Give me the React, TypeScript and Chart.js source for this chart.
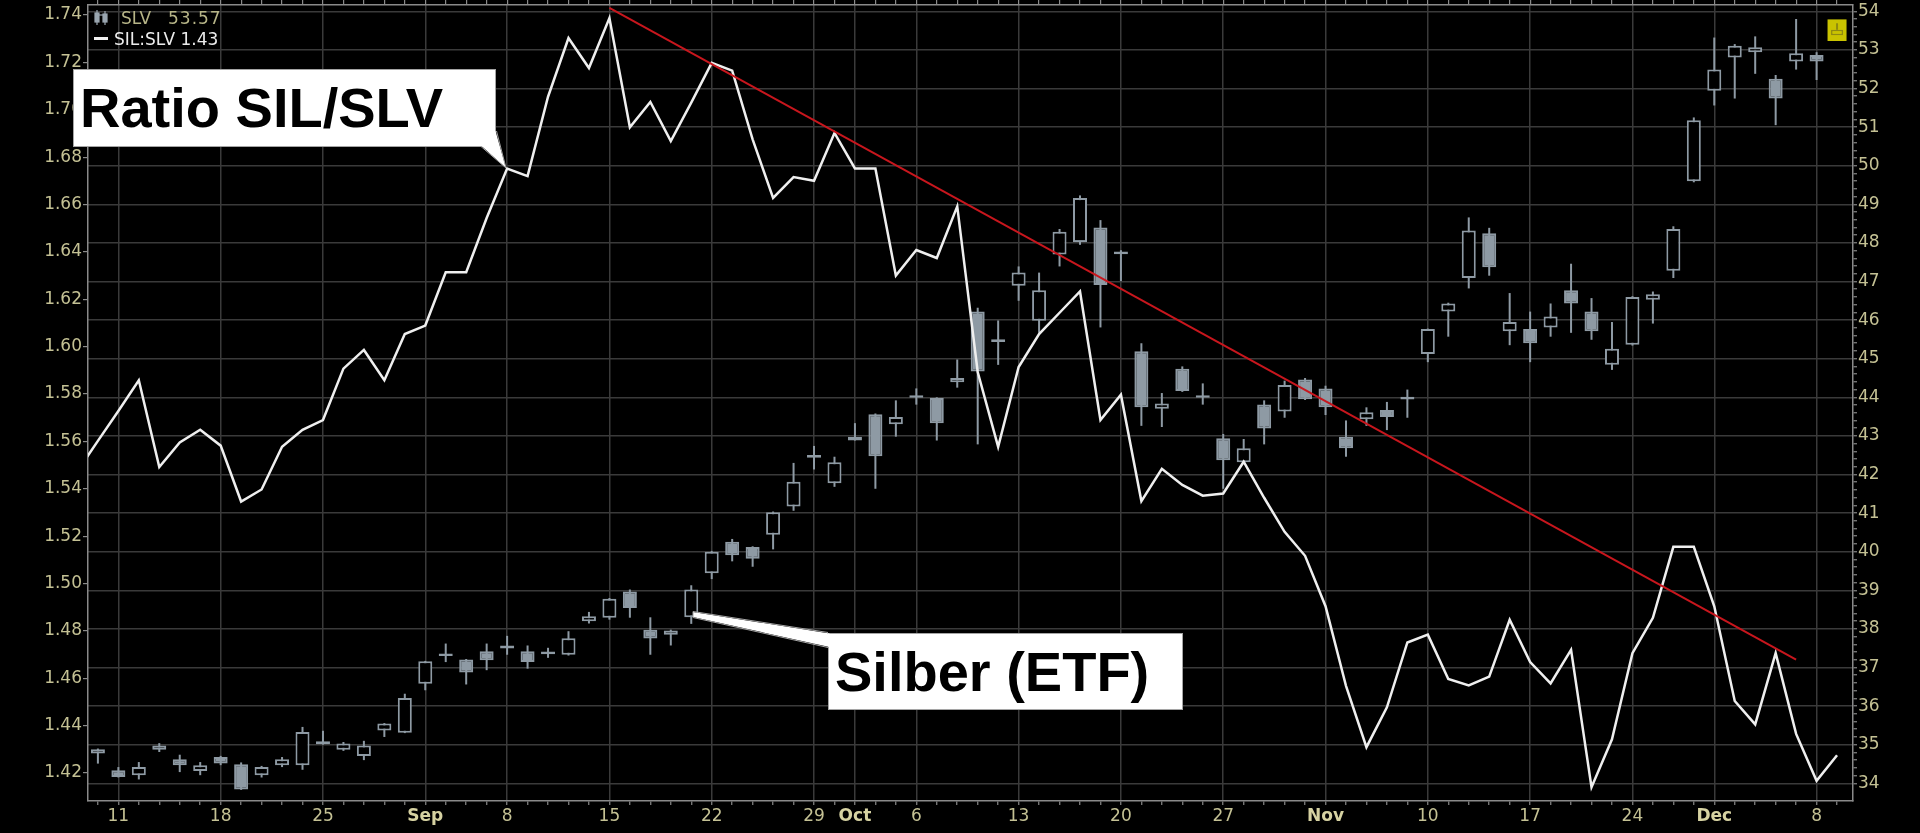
import React, { useEffect, useRef } from 'react';
import { Chart, registerables } from 'chart.js';

Chart.register(...registerables);

// ---------- DATA ----------
// trading days (Aug 7 is only used by the ratio line, clipped at the left edge)
const dates: string[] = [
  'Aug 7', 'Aug 8',
  'Aug 11', 'Aug 12', 'Aug 13', 'Aug 14', 'Aug 15',
  'Aug 18', 'Aug 19', 'Aug 20', 'Aug 21', 'Aug 22',
  'Aug 25', 'Aug 26', 'Aug 27', 'Aug 28', 'Aug 29',
  'Sep 2', 'Sep 3', 'Sep 4', 'Sep 5',
  'Sep 8', 'Sep 9', 'Sep 10', 'Sep 11', 'Sep 12',
  'Sep 15', 'Sep 16', 'Sep 17', 'Sep 18', 'Sep 19',
  'Sep 22', 'Sep 23', 'Sep 24', 'Sep 25', 'Sep 26',
  'Sep 29', 'Sep 30', 'Oct 1', 'Oct 2', 'Oct 3',
  'Oct 6', 'Oct 7', 'Oct 8', 'Oct 9', 'Oct 10',
  'Oct 13', 'Oct 14', 'Oct 15', 'Oct 16', 'Oct 17',
  'Oct 20', 'Oct 21', 'Oct 22', 'Oct 23', 'Oct 24',
  'Oct 27', 'Oct 28', 'Oct 29', 'Oct 30', 'Oct 31',
  'Nov 3', 'Nov 4', 'Nov 5', 'Nov 6', 'Nov 7',
  'Nov 10', 'Nov 11', 'Nov 12', 'Nov 13', 'Nov 14',
  'Nov 17', 'Nov 18', 'Nov 19', 'Nov 20', 'Nov 21',
  'Nov 24', 'Nov 25', 'Nov 26', 'Nov 28',
  'Dec 1', 'Dec 2', 'Dec 3', 'Dec 4', 'Dec 5',
  'Dec 8', 'Dec 9',
];

// SIL:SLV ratio (left axis)
const ratio: number[] = [
  1.5475, 1.5602,
  1.5728, 1.5858, 1.5492, 1.5595, 1.5649,
  1.5582, 1.5346, 1.5397, 1.5577, 1.5649,
  1.5690, 1.5907, 1.5986, 1.5858, 1.6053,
  1.6089, 1.6314, 1.6314, 1.6543,
  1.6752, 1.6720, 1.7055, 1.7303, 1.7176,
  1.7387, 1.6926, 1.7033, 1.6868, 1.7030,
  1.7198, 1.7165, 1.6875, 1.6628, 1.6716,
  1.6700, 1.6902, 1.6752, 1.6752, 1.6300,
  1.6408, 1.6374, 1.6592, 1.5893, 1.5577,
  1.5914, 1.6053, 1.6143, 1.6233, 1.5690,
  1.5797, 1.5348, 1.5484, 1.5416, 1.5371,
  1.5380, 1.5514, 1.5362, 1.5218, 1.5117,
  1.4904, 1.4568, 1.4309, 1.4477, 1.4751,
  1.4784, 1.4597, 1.4570, 1.4607, 1.4847,
  1.4668, 1.4578, 1.4720, 1.4140, 1.4342,
  1.4706, 1.4855, 1.5155, 1.5155,
  1.4904, 1.4504, 1.4405, 1.4706, 1.4365,
  1.4167, 1.4275,
];

// SLV daily candles (right axis)
const slvOpen: (number | null)[] = [
  null, 34.77,
  34.34, 34.21, 34.87, 34.62, 34.32,
  34.68, 34.49, 34.21, 34.47, 34.47,
  35.09, 34.87, 34.71, 35.37, 35.31,
  36.58, 37.32, 37.21, 37.42,
  37.57, 37.42, 37.36, 37.33, 38.20,
  38.29, 38.97, 37.98, 37.85, 38.30,
  39.44, 40.26, 40.12, 40.44, 41.17,
  42.44, 41.77, 42.88, 43.56, 43.30,
  44.00, 43.98, 44.39, 46.22, 45.45,
  46.89, 45.98, 47.70, 48.02, 48.40,
  47.72, 45.19, 43.70, 44.74, 44.04,
  42.94, 42.32, 43.81, 43.63, 44.46,
  44.23, 42.98, 43.43, 43.67, 43.96,
  45.12, 46.22, 47.09, 48.25, 45.71,
  45.77, 45.81, 46.77, 46.22, 44.84,
  45.36, 46.53, 47.28, 49.60,
  51.94, 52.80, 52.94, 52.25, 52.70,
  52.87, null,
];
const slvHigh: (number | null)[] = [
  null, 34.90,
  34.42, 34.55, 35.04, 34.74, 34.55,
  34.71, 34.54, 34.45, 34.68, 35.46,
  35.36, 35.07, 35.10, 35.56, 36.32,
  37.17, 37.62, 37.22, 37.62,
  37.82, 37.57, 37.51, 37.94, 38.44,
  38.80, 39.02, 38.30, 37.98, 39.13,
  40.02, 40.33, 40.14, 41.04, 42.30,
  42.74, 42.46, 43.33, 43.58, 43.92,
  44.23, 44.00, 44.98, 46.32, 45.99,
  47.39, 47.23, 48.36, 49.23, 48.59,
  47.81, 45.40, 44.11, 44.80, 44.36,
  43.05, 42.92, 43.92, 44.43, 44.50,
  44.30, 43.40, 43.74, 43.88, 44.20,
  45.78, 46.45, 48.66, 48.39, 46.70,
  46.22, 46.43, 47.46, 46.57, 45.95,
  46.62, 46.74, 48.43, 51.25,
  53.32, 53.15, 53.35, 52.35, 53.80,
  52.94, null,
];
const slvLow: (number | null)[] = [
  null, 34.51,
  34.15, 34.10, 34.81, 34.29, 34.21,
  34.47, 33.83, 34.15, 34.42, 34.35,
  35.00, 34.84, 34.60, 35.20, 35.30,
  36.41, 37.14, 36.56, 36.93,
  37.33, 36.97, 37.25, 37.31, 38.14,
  38.24, 38.29, 37.33, 37.57, 38.13,
  39.29, 39.75, 39.61, 40.06, 41.06,
  42.13, 41.68, 42.88, 41.63, 42.98,
  43.81, 42.88, 44.25, 42.78, 44.84,
  46.50, 45.67, 47.39, 47.95, 45.81,
  47.01, 43.26, 43.23, 44.14, 43.81,
  41.63, 42.30, 42.78, 43.47, 43.93,
  43.54, 42.46, 43.26, 43.15, 43.47,
  44.91, 45.57, 46.82, 47.15, 45.35,
  44.91, 45.57, 45.67, 45.49, 44.71,
  45.34, 45.91, 47.09, 49.57,
  51.56, 51.74, 52.38, 51.05, 52.49,
  52.22, null,
];
const slvClose: (number | null)[] = [
  null, 34.88,
  34.16, 34.42, 34.98, 34.47, 34.47,
  34.51, 33.84, 34.42, 34.62, 35.33,
  35.01, 35.03, 34.98, 35.55, 36.21,
  37.16, 37.34, 36.87, 37.19,
  37.49, 37.14, 37.40, 37.76, 38.33,
  38.78, 38.54, 37.75, 37.96, 39.02,
  40.00, 39.91, 39.82, 41.02, 41.81,
  42.50, 42.32, 42.98, 42.47, 43.49,
  44.04, 43.33, 44.50, 44.67, 45.49,
  47.23, 46.77, 48.29, 49.16, 46.91,
  47.76, 43.74, 43.84, 44.16, 44.00,
  42.37, 42.68, 43.19, 44.32, 43.95,
  43.74, 42.68, 43.61, 43.49, 44.00,
  45.77, 46.43, 48.32, 47.37, 45.95,
  45.40, 46.09, 46.43, 45.71, 45.26,
  46.60, 46.67, 48.36, 51.18,
  52.49, 53.11, 53.07, 51.74, 52.91,
  52.70, null,
];

const slvLast = 53.57;
const slvLastDate = 'Dec 9';
const ratioLast = 1.43;

// red trend line on the ratio
const trendDates = ['Sep 15', 'Dec 5'];
const trendValues = [1.743, 1.4679];

// axis ticks
const ratioTicks = [1.42, 1.44, 1.46, 1.48, 1.5, 1.52, 1.54, 1.56, 1.58, 1.6, 1.62, 1.64, 1.66, 1.68, 1.7, 1.72, 1.74];
const xLabelDates = ['Aug 11', 'Aug 18', 'Aug 25', 'Sep 2', 'Sep 8', 'Sep 15', 'Sep 22', 'Sep 29', 'Oct 1', 'Oct 6', 'Oct 13', 'Oct 20', 'Oct 27', 'Nov 3', 'Nov 10', 'Nov 17', 'Nov 24', 'Dec 1', 'Dec 8'];
const xLabelTexts = ['11', '18', '25', 'Sep', '8', '15', '22', '29', 'Oct', '6', '13', '20', '27', 'Nov', '10', '17', '24', 'Dec', '8'];
const monthNames = ['Sep', 'Oct', 'Nov', 'Dec'];

// ---------- STYLE ----------
const W = 1920;
const H = 833;
const GRID = '#3a3a3a';
const AXIS = '#8a8a8a';
const CANDLE = '#8e9aa4';
const LABEL = '#c4c194';
const MONTH = '#d6d2a2';
const FONT = "'DejaVu Sans', 'Noto Sans', sans-serif";
const CALLOUT_FONT = "'Liberation Sans', Arial, sans-serif";

const X_MIN = 0.516;
const X_MAX = 86.78;
const YL_MIN = 1.40818;
const YL_MAX = 1.74422;
const YR_MIN = 33.541;
const YR_MAX = 54.163;
const MIN_BODY = 0.07;

const TRANSPARENT = 'rgba(0,0,0,0)';

function fix(dim: 'width' | 'height', v: number) {
  return (s: any) => {
    s[dim] = v;
    s.paddingTop = 0;
    s.paddingBottom = 0;
    s.paddingLeft = 0;
    s.paddingRight = 0;
  };
}

export default function App() {
  const ref = useRef<HTMLCanvasElement>(null);

  useEffect(() => {
    document.body.style.margin = '0';
    document.body.style.background = '#000';
    const canvas = ref.current;
    if (!canvas) return;

    const idx = dates.map((_, j) => j);
    const candleIdx = idx.filter((j) => slvOpen[j] != null);
    const isUp = (j: number) => (slvClose[j] as number) >= (slvOpen[j] as number);

    const wickData = candleIdx.map((j) => ({ x: j, y: [slvLow[j] as number, slvHigh[j] as number] }));
    const bodyData = candleIdx.map((j) => {
      const o = slvOpen[j] as number;
      const c = slvClose[j] as number;
      let lo = Math.min(o, c);
      let hi = Math.max(o, c);
      if (hi - lo < MIN_BODY) {
        const m = (hi + lo) / 2;
        lo = m - MIN_BODY / 2;
        hi = m + MIN_BODY / 2;
      }
      return { x: j, y: [lo, hi] };
    });
    const bodyFill = candleIdx.map((j) => (isUp(j) ? '#000000' : CANDLE));

    const lastIdx = dates.indexOf(slvLastDate);
    const dayTicks = idx.filter((j) => j >= X_MIN && j <= X_MAX);
    const labelAt = new Map<number, string>();
    xLabelDates.forEach((d, k) => labelAt.set(dates.indexOf(d), xLabelTexts[k]));

    const rightTicks: number[] = [];
    for (let k = 0; k <= 100; k++) rightTicks.push(Math.round((34 + k * 0.2) * 10) / 10);
    const isInt = (v: number) => Math.abs(v - Math.round(v)) < 1e-6;

    const chart = new Chart(canvas, {
      type: 'line',
      data: {
        datasets: [
          {
            type: 'line',
            label: 'trend',
            data: trendDates.map((d, k) => ({ x: dates.indexOf(d), y: trendValues[k] })),
            borderColor: '#c8161d',
            borderWidth: 2,
            pointRadius: 0,
            xAxisID: 'x',
            yAxisID: 'yL',
            order: 0,
            clip: 0,
          } as any,
          {
            type: 'line',
            label: 'SIL:SLV',
            data: ratio.map((v, j) => ({ x: j, y: v })),
            borderColor: '#efefef',
            borderWidth: 2.5,
            pointRadius: 0,
            tension: 0,
            xAxisID: 'x',
            yAxisID: 'yL',
            order: 1,
            clip: 0,
          } as any,
          {
            type: 'bar',
            label: 'marker icon',
            data: [{ x: lastIdx, y: [slvLast - 0.19, slvLast - 0.05] }],
            backgroundColor: '#c9c300',
            borderColor: '#8f8a10',
            borderWidth: 1.5,
            borderSkipped: false,
            barThickness: 12,
            maxBarThickness: 12,
            grouped: false,
            inflateAmount: 0,
            xAxisID: 'x',
            yAxisID: 'yR',
            order: 5,
          } as any,
          {
            type: 'bar',
            label: 'marker icon wick',
            data: [{ x: lastIdx, y: [slvLast - 0.05, slvLast + 0.12] }],
            backgroundColor: '#8f8a10',
            borderWidth: 0,
            barThickness: 2,
            maxBarThickness: 2,
            grouped: false,
            inflateAmount: 0,
            xAxisID: 'x',
            yAxisID: 'yR',
            order: 6,
          } as any,
          {
            type: 'bar',
            label: 'SLV last',
            data: [{ x: lastIdx, y: [slvLast - 0.34, slvLast + 0.22] }],
            backgroundColor: '#c9c300',
            borderWidth: 0,
            barThickness: 19,
            maxBarThickness: 19,
            grouped: false,
            inflateAmount: 0,
            xAxisID: 'x',
            yAxisID: 'yR',
            order: 7,
          } as any,
          {
            type: 'bar',
            label: 'SLV body',
            data: bodyData,
            backgroundColor: bodyFill,
            borderColor: CANDLE,
            borderWidth: 2,
            borderSkipped: false,
            barThickness: 14,
            maxBarThickness: 14,
            grouped: false,
            inflateAmount: 0,
            xAxisID: 'x',
            yAxisID: 'yR',
            order: 8,
          } as any,
          {
            type: 'bar',
            label: 'SLV wick',
            data: wickData,
            backgroundColor: CANDLE,
            borderWidth: 0,
            barThickness: 2,
            maxBarThickness: 2,
            grouped: false,
            inflateAmount: 0,
            xAxisID: 'x',
            yAxisID: 'yR',
            order: 9,
          } as any,
        ],
      },
      options: {
        responsive: false,
        animation: false,
        devicePixelRatio: 1,
        events: [],
        layout: { padding: 0 },
        plugins: { legend: { display: false }, tooltip: { enabled: false } },
        scales: {
          x: {
            type: 'linear',
            position: 'bottom',
            min: X_MIN,
            max: X_MAX,
            bounds: 'data',
            offset: false,
            afterBuildTicks: (s: any) => {
              s.ticks = dayTicks.map((v) => ({ value: v }));
            },
            afterFit: fix('height', 32),
            ticks: {
              autoSkip: false,
              maxRotation: 0,
              minRotation: 0,
              padding: 1,
              callback: (v: any) => labelAt.get(Number(v)) ?? '',
              color: (ctx: any) => (monthNames.includes(labelAt.get(ctx.tick?.value) ?? '') ? MONTH : LABEL),
              font: (ctx: any) =>
                monthNames.includes(labelAt.get(ctx.tick?.value) ?? '')
                  ? { family: FONT, size: 17, weight: 'bold' }
                  : { family: FONT, size: 17, weight: 'normal' },
            },
            grid: {
              offset: false,
              drawOnChartArea: true,
              lineWidth: 1.5,
              color: (ctx: any) => (labelAt.has(ctx.tick?.value) ? GRID : TRANSPARENT),
              tickColor: AXIS,
              tickLength: 4,
              tickWidth: 1.2,
            },
            border: { display: true, color: AXIS, width: 1.5 },
          } as any,
          x2: {
            type: 'linear',
            position: 'top',
            min: X_MIN,
            max: X_MAX,
            bounds: 'data',
            offset: false,
            afterBuildTicks: (s: any) => {
              s.ticks = dayTicks.map((v) => ({ value: v }));
            },
            afterFit: fix('height', 5),
            ticks: { display: false, autoSkip: false },
            grid: {
              offset: false,
              drawOnChartArea: false,
              color: AXIS,
              tickLength: 5,
              lineWidth: 1.2,
            },
            border: { display: true, color: AXIS, width: 1.5 },
          } as any,
          yL: {
            type: 'linear',
            position: 'left',
            min: YL_MIN,
            max: YL_MAX,
            bounds: 'data',
            afterBuildTicks: (s: any) => {
              s.ticks = ratioTicks.map((v) => ({ value: v }));
            },
            afterFit: fix('width', 88),
            ticks: {
              autoSkip: false,
              padding: 1,
              color: LABEL,
              font: { family: FONT, size: 17 },
              callback: (v: any) => Number(v).toFixed(2),
            },
            grid: {
              drawOnChartArea: false,
              color: AXIS,
              tickLength: 5,
              lineWidth: 1.2,
            },
            border: { display: true, color: AXIS, width: 1.5 },
          } as any,
          yR: {
            type: 'linear',
            position: 'right',
            min: YR_MIN,
            max: YR_MAX,
            bounds: 'data',
            afterBuildTicks: (s: any) => {
              s.ticks = rightTicks.map((v) => ({ value: v }));
            },
            afterFit: fix('width', 67),
            ticks: {
              autoSkip: false,
              padding: 1,
              color: LABEL,
              font: { family: FONT, size: 17 },
              callback: (v: any) => (isInt(Number(v)) ? String(Math.round(Number(v))) : ''),
            },
            grid: {
              drawOnChartArea: true,
              lineWidth: 1.5,
              color: (ctx: any) => (isInt(ctx.tick?.value ?? 0.5) ? GRID : TRANSPARENT),
              tickColor: AXIS,
              tickLength: 4,
              tickWidth: 1.2,
            },
            border: { display: true, color: AXIS, width: 1.5 },
          } as any,
        },
      } as any,
    });

    return () => chart.destroy();
  }, []);

  const legendText: React.CSSProperties = {
    position: 'absolute',
    fontFamily: FONT,
    fontSize: 17,
    lineHeight: '17px',
    whiteSpace: 'nowrap',
  };
  const calloutText: React.CSSProperties = {
    position: 'absolute',
    fontFamily: CALLOUT_FONT,
    fontWeight: 'bold',
    fontSize: 56,
    lineHeight: '56px',
    color: '#000',
    whiteSpace: 'nowrap',
  };
  const box: React.CSSProperties = {
    position: 'absolute',
    background: '#fff',
    border: '1px solid #a5a5a5',
    boxSizing: 'border-box',
  };

  return (
    <div style={{ position: 'relative', width: W, height: H, background: '#000', overflow: 'hidden' }}>
      <canvas ref={ref} width={W} height={H} style={{ display: 'block', width: W, height: H }} />

      {/* legend */}
      <svg width={W} height={H} style={{ position: 'absolute', left: 0, top: 0, pointerEvents: 'none' }}>
        <g stroke="#9aa6b0" fill="#9aa6b0" strokeWidth={1.2}>
          <line x1={97} y1={10} x2={97} y2={25} />
          <rect x={95} y={13} width={4} height={9} />
          <line x1={105} y1={11} x2={105} y2={25} />
          <rect x={103} y={14} width={4} height={8} />
          <line x1={99} y1={15} x2={103} y2={15} />
        </g>
        <rect x={94} y={37} width={14} height={3} fill="#f0f0f0" />
      </svg>
      <div style={{ ...legendText, left: 121, top: 9.6, color: '#b6b487' }}>SLV</div>
      <div style={{ ...legendText, left: 168, top: 9.6, color: '#b6b487', letterSpacing: 1 }}>{slvLast.toFixed(2)}</div>
      <div style={{ ...legendText, left: 114, top: 30.6, color: '#ececec' }}>{`SIL:SLV ${ratioLast.toFixed(2)}`}</div>

      {/* callout: ratio */}
      <div style={{ ...box, left: 73, top: 69, width: 423, height: 78 }} />
      <svg width={W} height={H} style={{ position: 'absolute', left: 0, top: 0, pointerEvents: 'none' }}>
        <polygon points="481,145.5 495.5,131 506,168" fill="#fff" />
        <line x1={481} y1={146.5} x2={506} y2={168} stroke="#a5a5a5" strokeWidth={1} />
        <line x1={496.5} y1={131} x2={506} y2={168} stroke="#a5a5a5" strokeWidth={1} />
      </svg>
      <div style={{ ...calloutText, left: 80, top: 79.6 }}>Ratio SIL/SLV</div>

      {/* callout: silver */}
      <div style={{ ...box, left: 828, top: 633, width: 355, height: 77 }} />
      <svg width={W} height={H} style={{ position: 'absolute', left: 0, top: 0, pointerEvents: 'none' }}>
        <polygon points="693,612 829.5,633.5 829.5,647 693,617" fill="#fff" />
        <line x1={693} y1={611.5} x2={828} y2={632.5} stroke="#a5a5a5" strokeWidth={1} />
        <line x1={693} y1={617.5} x2={828} y2={647.5} stroke="#a5a5a5" strokeWidth={1} />
        <line x1={693} y1={611.5} x2={693} y2={617.5} stroke="#a5a5a5" strokeWidth={1} />
      </svg>
      <div style={{ ...calloutText, left: 835, top: 644.1 }}>Silber (ETF)</div>
    </div>
  );
}
